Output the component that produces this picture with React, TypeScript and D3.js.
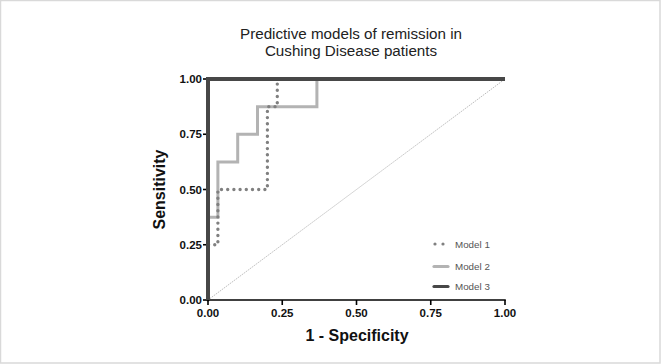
import React from "react";
import * as d3 from "d3";

const W = 661;
const H = 364;

const xTicks = [0, 0.25, 0.5, 0.75, 1.0];
const yTicks = [0, 0.25, 0.5, 0.75, 1.0];

const model1X = [0, 0, 0.0333, 0.0333, 0.2, 0.2, 0.2333, 0.2333, 1];
const model1Y = [0, 0.25, 0.25, 0.5, 0.5, 0.875, 0.875, 1, 1];

const model2X = [0, 0, 0.0333, 0.0333, 0.1, 0.1, 0.1667, 0.1667, 0.3667, 0.3667, 1];
const model2Y = [0, 0.375, 0.375, 0.625, 0.625, 0.75, 0.75, 0.875, 0.875, 1, 1];

const model3X = [0, 0, 1];
const model3Y = [0, 1, 1];

const legendLabels = ["Model 1", "Model 2", "Model 3"];

const FONT = "'Liberation Sans', Arial, Helvetica, sans-serif";

export default function App() {
  const x = d3.scaleLinear().domain([0, 1]).range([208, 505]);
  const y = d3.scaleLinear().domain([0, 1]).range([300, 79]);

  const line = d3
    .line<[number, number]>()
    .x((d) => x(d[0]))
    .y((d) => y(d[1]));

  const pts = (xs: number[], ys: number[]) =>
    xs.map((v, i) => [v, ys[i]] as [number, number]);

  const styles = [
    { stroke: "#808080", width: 3.4 },
    { stroke: "#b3b3b3", width: 3 },
    { stroke: "#474747", width: 4 },
  ];

  return (
    <svg
      width={W}
      height={H}
      style={{ position: "absolute", left: 0, top: 0, background: "#fff" }}
    >
      <rect x={0.5} y={0.5} width={W - 1.5} height={H - 1.5} fill="#fff" stroke="#d9d9d9" strokeWidth={1.5} />

      {/* Title */}
      <text x={351} y={39} textAnchor="middle" fontFamily={FONT} fontSize={15.2} fill="#222">
        Predictive models of remission in
      </text>
      <text x={351} y={56} textAnchor="middle" fontFamily={FONT} fontSize={15.2} fill="#222">
        Cushing Disease patients
      </text>

      {/* Diagonal reference */}
      <line
        x1={x(0)}
        y1={y(0)}
        x2={x(1)}
        y2={y(1)}
        stroke="#aaa"
        strokeWidth={0.8}
        strokeDasharray="1.5 1"
      />

      {/* Models */}
      <path
        d={line(pts(model2X, model2Y)) || ""}
        fill="none"
        stroke={styles[1].stroke}
        strokeWidth={styles[1].width}
      />
      <path
        d={line(pts(model1X, model1Y)) || ""}
        fill="none"
        stroke={styles[0].stroke}
        strokeWidth={styles[0].width}
        strokeDasharray="0 6.2"
        strokeLinecap="round"
      />

      {/* Axes */}
      <g stroke="#000" strokeWidth={1.6}>
        <line x1={x(0)} x2={x(1) + 0.8} y1={y(0)} y2={y(0)} />
        <line x1={x(0)} x2={x(0)} y1={y(0) + 0.8} y2={y(1)} />
        {xTicks.map((t) => (
          <line key={"xt" + t} x1={x(t)} x2={x(t)} y1={y(0)} y2={y(0) + 5} />
        ))}
        {yTicks.map((t) => (
          <line key={"yt" + t} x1={x(0) - 5} x2={x(0)} y1={y(t)} y2={y(t)} />
        ))}
      </g>

      <path
        d={line(pts(model3X, model3Y)) || ""}
        fill="none"
        stroke={styles[2].stroke}
        strokeWidth={styles[2].width}
      />

      {xTicks.map((t) => (
        <text
          key={"xl" + t}
          x={x(t)}
          y={317}
          textAnchor="middle"
          fontFamily={FONT}
          fontWeight="bold"
          fontSize={11.5}
          fill="#111"
        >
          {t.toFixed(2)}
        </text>
      ))}
      {yTicks.map((t) => (
        <text
          key={"yl" + t}
          x={202}
          y={y(t) + 4}
          textAnchor="end"
          fontFamily={FONT}
          fontWeight="bold"
          fontSize={11.5}
          fill="#111"
        >
          {t.toFixed(2)}
        </text>
      ))}

      {/* Axis titles */}
      <text
        x={357}
        y={341}
        textAnchor="middle"
        fontFamily={FONT}
        fontWeight="bold"
        fontSize={16}
        fill="#111"
      >
        1 - Specificity
      </text>
      <text
        transform={`translate(165, ${(y(0) + y(1)) / 2}) rotate(-90)`}
        textAnchor="middle"
        fontFamily={FONT}
        fontWeight="bold"
        fontSize={16}
        fill="#111"
      >
        Sensitivity
      </text>

      {/* Legend */}
      {legendLabels.map((lab, i) => {
        const ly = [244, 266.5, 286.5][i];
        const s = styles[i];
        return (
          <g key={lab}>
            {i === 0 ? (
              [435, 443].map((cx) => (
                <circle key={cx} cx={cx} cy={ly} r={1.6} fill={s.stroke} />
              ))
            ) : (
              <line
                x1={434}
                x2={448}
                y1={ly}
                y2={ly}
                stroke={s.stroke}
                strokeWidth={3.2}
                strokeLinecap="round"
              />
            )}
            <text
              x={455}
              y={ly + 3.5}
              fontFamily={FONT}
              fontSize={9.8}
              fill="#555"
            >
              {lab}
            </text>
          </g>
        );
      })}
    </svg>
  );
}
